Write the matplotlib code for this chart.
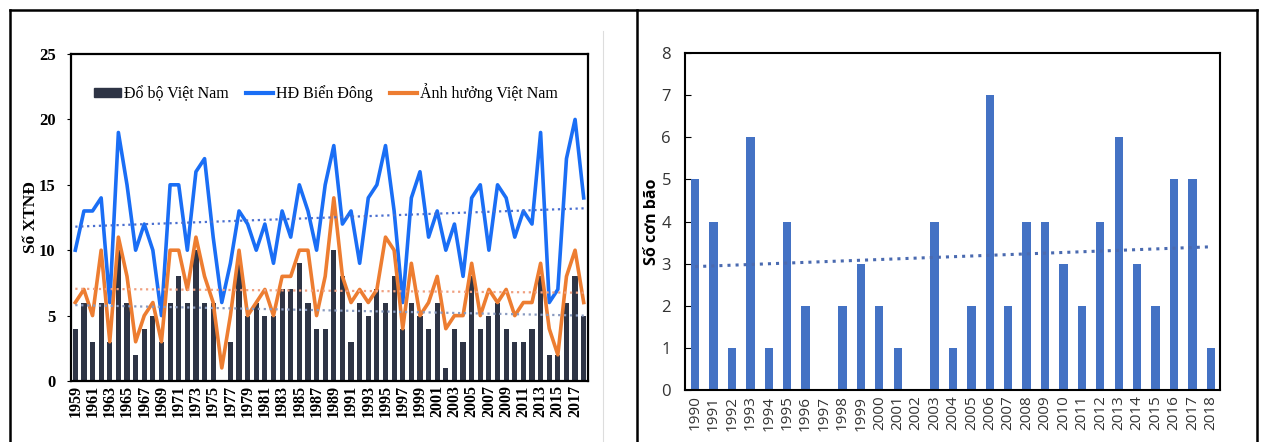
import numpy as np
import matplotlib.pyplot as plt
from matplotlib.lines import Line2D
from matplotlib.patches import Patch

# --- left chart: tropical cyclones 1959-2018 ---
years_left = list(range(1959, 2019))

do_bo = [4, 6, 3, 6, 3, 10, 6, 2, 4, 5, 3, 6, 8, 6, 10, 6, 6, 0, 3, 9,
         5, 6, 5, 5, 7, 7, 9, 6, 4, 4, 10, 8, 3, 6, 5, 7, 6, 8, 4, 6,
         5, 4, 6, 1, 4, 3, 8, 4, 5, 6, 4, 3, 3, 4, 8, 2, 2, 6, 8, 5]

bien_dong = [10, 13, 13, 14, 6, 19, 15, 10, 12, 10, 5, 15, 15, 10, 16, 17, 11, 6, 9, 13,
             12, 10, 12, 9, 13, 11, 15, 13, 10, 15, 18, 12, 13, 9, 14, 15, 18, 13, 6, 14,
             16, 11, 13, 10, 12, 8, 14, 15, 10, 15, 14, 11, 13, 12, 19, 6, 7, 17, 20, 14]

anh_huong = [6, 7, 5, 10, 3, 11, 8, 3, 5, 6, 3, 10, 10, 7, 11, 8, 6, 1, 5, 10,
             5, 6, 7, 5, 8, 8, 10, 10, 5, 8, 14, 8, 6, 7, 6, 7, 11, 10, 4, 9,
             5, 6, 8, 4, 5, 5, 9, 5, 7, 6, 7, 5, 6, 6, 9, 4, 2, 8, 10, 6]

# trend line end values
trend_do_bo = [5.8, 5.0]
trend_bien_dong = [11.8, 13.2]
trend_anh_huong = [7.05, 6.75]

# --- right chart: storms 1990-2018 ---
years_right = list(range(1990, 2019))
so_con_bao = [5, 4, 1, 6, 1, 4, 2, 0, 2, 3, 2, 1, 0, 4, 1, 2, 7, 2, 4, 4,
              3, 2, 4, 6, 3, 2, 5, 5, 1]
trend_bao = [2.93, 3.4]

fig = plt.figure(figsize=(12.61, 4.42), dpi=100)

serif = "Liberation Serif"
sans = "Open Sans"

# ---------- left ----------
ax1 = fig.add_axes([0.0563, 0.138, 0.41, 0.7398])
x1 = np.arange(len(years_left))
ax1.bar(x1, do_bo, width=0.6, color="#2e3445", zorder=2)
ax1.plot(x1, bien_dong, color="#1a6ef5", lw=2.6, zorder=3)
ax1.plot(x1, anh_huong, color="#ed7d31", lw=2.6, zorder=3)
ends = [x1[0], x1[-1]]
ax1.plot(ends, trend_do_bo, ls=":", color="#8a9bc0", lw=1.6, zorder=4)
ax1.plot(ends, trend_bien_dong, ls=":", color="#4a6fd0", lw=1.6, zorder=4)
ax1.plot(ends, trend_anh_huong, ls=":", color="#f0a080", lw=1.6, zorder=4)

ax1.set_xlim(-0.5, len(years_left) - 0.5)
ax1.set_ylim(0, 25)
ax1.set_yticks(range(0, 26, 5))
ax1.set_xticks(x1[::2])
ax1.set_xticklabels([str(y) for y in years_left[::2]], rotation=90,
                    fontfamily=serif, fontweight="bold", fontsize=11.5)
for lab in ax1.get_yticklabels():
    lab.set_fontfamily(serif)
    lab.set_fontweight("bold")
    lab.set_fontsize(12)
ax1.tick_params(axis="x", length=0, pad=3)
ax1.tick_params(axis="y", length=3, pad=8)
for s in ax1.spines.values():
    s.set_linewidth(1.6)
ax1.set_ylabel("Số XTNĐ", fontfamily=serif, fontweight="bold", fontsize=12.5, labelpad=0)

handles = [Patch(color="#2e3445"),
           Line2D([], [], color="#1a6ef5", lw=3),
           Line2D([], [], color="#ed7d31", lw=3)]
labels = ["Đổ bộ Việt Nam", "HĐ Biển Đông", "Ảnh hưởng Việt Nam"]
ax1.legend(handles, labels, loc="upper center", ncol=3, frameon=False,
           bbox_to_anchor=(0.493, 0.955), handlelength=1.7, handleheight=0.5,
           handletextpad=0.15, columnspacing=1.1,
           prop={"family": serif, "size": 11.5})

# ---------- right ----------
ax2 = fig.add_axes([0.5432, 0.1176, 0.4243, 0.7624])
x2 = np.arange(len(years_right))
ax2.bar(x2, so_con_bao, width=0.45, color="#4472c4", zorder=2)
ax2.plot([x2[0], x2[-1]], trend_bao, ls=":", color="#4a6ab0", lw=2.2, zorder=3)
ax2.set_xlim(-0.55, len(years_right) - 0.5)
ax2.set_ylim(0, 8)
ax2.set_yticks(range(0, 9))
ax2.set_xticks(x2)
ax2.set_xticklabels([str(y) for y in years_right], rotation=90,
                    fontfamily=sans, fontsize=11, color="#333333")
for lab in ax2.get_yticklabels():
    lab.set_fontfamily(sans)
    lab.set_fontsize(12)
    lab.set_color("#333333")
ax2.tick_params(axis="x", length=0, pad=4)
ax2.tick_params(axis="y", direction="in", length=4, pad=10)
for s in ax2.spines.values():
    s.set_linewidth(1.5)
ax2.set_ylabel("Số cơn bão", fontfamily=sans, fontweight="bold", fontsize=11.5, labelpad=1)

# panel borders
bw = 1.8
fig.add_artist(Line2D([0.0079, 0.9968], [0.977, 0.977], color="black", lw=bw))
fig.add_artist(Line2D([0.0079, 0.0079], [0.0, 0.977], color="black", lw=bw))
fig.add_artist(Line2D([0.505, 0.505], [0.0, 0.977], color="black", lw=bw))
fig.add_artist(Line2D([0.9968, 0.9968], [0.0, 0.977], color="black", lw=bw))
fig.add_artist(Line2D([0.478, 0.478], [0.0, 0.93], color="#dddddd", lw=0.8))

fig.savefig("out.png", dpi=100)
